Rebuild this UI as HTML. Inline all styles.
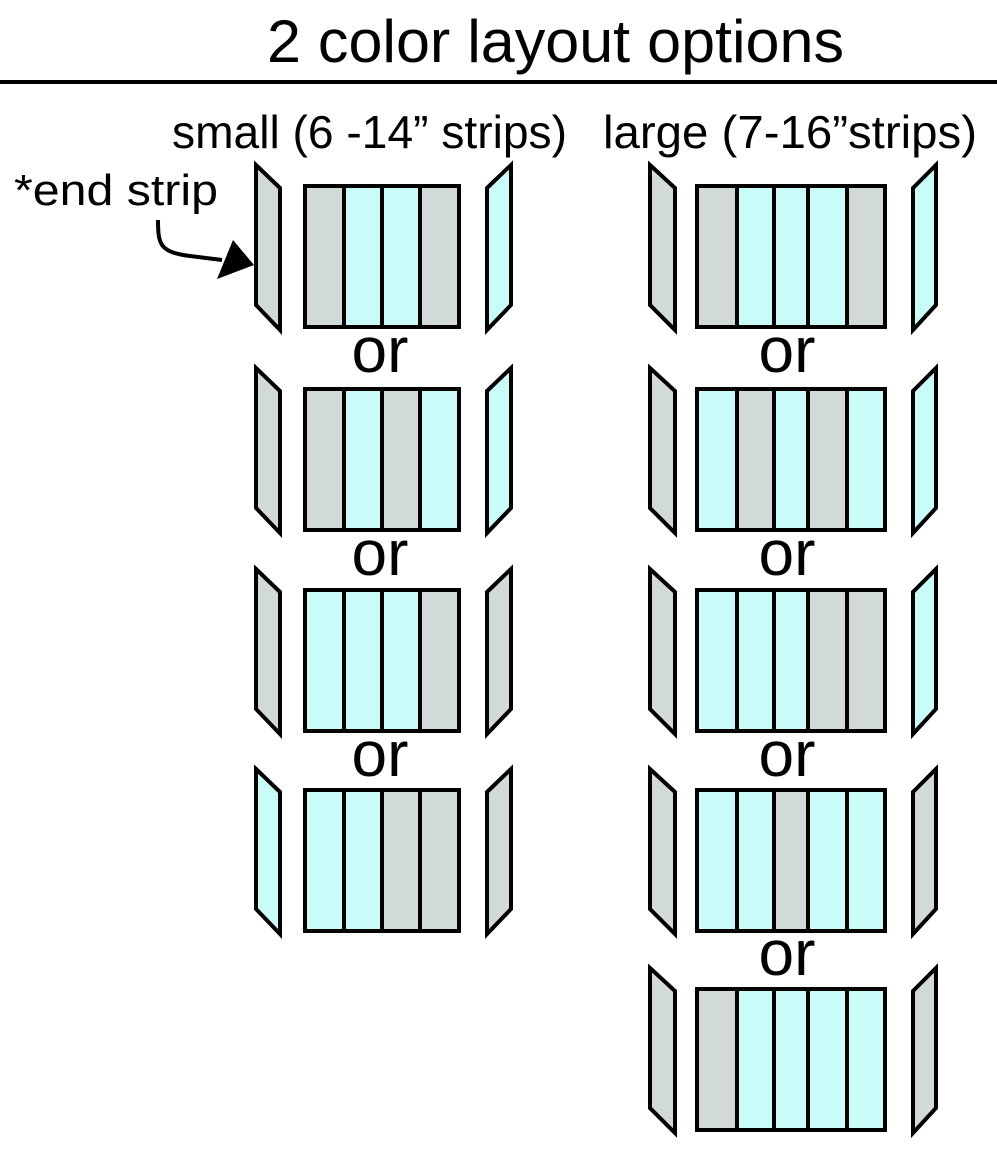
<!DOCTYPE html>
<html><head><meta charset="utf-8"><style>
html,body{margin:0;padding:0;background:#fff;}
svg{display:block;}
text{font-family:"Liberation Sans",sans-serif;fill:#000;}
</style></head><body>
<svg width="997" height="1154" viewBox="0 0 997 1154" xmlns="http://www.w3.org/2000/svg">
<defs>
<style>.s{stroke:#000;stroke-width:4;stroke-linejoin:miter}.g{fill:#d1d9d9}.c{fill:#c9fbf8}</style>
</defs>
<g transform="translate(0,62) scale(1,1.2)"><text x="267" y="0" font-size="50" textLength="577" lengthAdjust="spacingAndGlyphs">2 color layout options</text></g>
<rect x="0" y="80" width="997" height="4" fill="#000"/>
<g transform="translate(0,148) scale(1,1.15)">
<text x="172" y="0" font-size="40" textLength="395" lengthAdjust="spacingAndGlyphs">small (6 -14” strips)</text>
<text x="603" y="0" font-size="40" textLength="374" lengthAdjust="spacingAndGlyphs">large (7-16”strips)</text>
</g>
<g transform="translate(0,205) scale(1,1.1)"><text x="14" y="0" font-size="40" textLength="204" lengthAdjust="spacingAndGlyphs">*end strip</text></g>
<path d="M158,220 C158,245 160,252 190,256 L222,260" fill="none" stroke="#000" stroke-width="4"/>
<polygon points="233,240 254,265 217,279" fill="#000"/>

<!-- small rows -->
<g transform="translate(0,186)">
<polygon class="s g" points="256,-21 280,2 280,144 256,119"/>
<rect class="g" x="305" y="0" width="39" height="141"/><rect class="c" x="344" y="0" width="38" height="141"/><rect class="c" x="382" y="0" width="38" height="141"/><rect class="g" x="420" y="0" width="39" height="141"/>
<rect class="s" x="305" y="0" width="154" height="141" fill="none"/><path class="s" d="M344,0V141M382,0V141M420,0V141"/>
<polygon class="s c" points="487,2 511,-21 511,119 487,144"/>
</g>
<text x="380" y="372" font-size="64" text-anchor="middle">or</text>
<g transform="translate(0,389)">
<polygon class="s g" points="256,-21 280,2 280,144 256,119"/>
<rect class="g" x="305" y="0" width="39" height="141"/><rect class="c" x="344" y="0" width="38" height="141"/><rect class="g" x="382" y="0" width="38" height="141"/><rect class="c" x="420" y="0" width="39" height="141"/>
<rect class="s" x="305" y="0" width="154" height="141" fill="none"/><path class="s" d="M344,0V141M382,0V141M420,0V141"/>
<polygon class="s c" points="487,2 511,-21 511,119 487,144"/>
</g>
<text x="380" y="575" font-size="64" text-anchor="middle">or</text>
<g transform="translate(0,590)">
<polygon class="s g" points="256,-21 280,2 280,144 256,119"/>
<rect class="c" x="305" y="0" width="39" height="141"/><rect class="c" x="344" y="0" width="38" height="141"/><rect class="c" x="382" y="0" width="38" height="141"/><rect class="g" x="420" y="0" width="39" height="141"/>
<rect class="s" x="305" y="0" width="154" height="141" fill="none"/><path class="s" d="M344,0V141M382,0V141M420,0V141"/>
<polygon class="s g" points="487,2 511,-21 511,119 487,144"/>
</g>
<text x="380" y="776" font-size="64" text-anchor="middle">or</text>
<g transform="translate(0,790)">
<polygon class="s c" points="256,-21 280,2 280,144 256,119"/>
<rect class="c" x="305" y="0" width="39" height="141"/><rect class="c" x="344" y="0" width="38" height="141"/><rect class="g" x="382" y="0" width="38" height="141"/><rect class="g" x="420" y="0" width="39" height="141"/>
<rect class="s" x="305" y="0" width="154" height="141" fill="none"/><path class="s" d="M344,0V141M382,0V141M420,0V141"/>
<polygon class="s g" points="487,2 511,-21 511,119 487,144"/>
</g>

<!-- large rows -->
<g transform="translate(0,186)">
<polygon class="s g" points="650,-21 675,2 675,144 650,119"/>
<rect class="g" x="697" y="0" width="40" height="141"/><rect class="c" x="737" y="0" width="37" height="141"/><rect class="c" x="774" y="0" width="34" height="141"/><rect class="c" x="808" y="0" width="39" height="141"/><rect class="g" x="847" y="0" width="38" height="141"/>
<rect class="s" x="697" y="0" width="188" height="141" fill="none"/><path class="s" d="M737,0V141M774,0V141M808,0V141M847,0V141"/>
<polygon class="s c" points="913,2 936,-21 936,119 913,144"/>
</g>
<text x="787" y="372" font-size="64" text-anchor="middle">or</text>
<g transform="translate(0,389)">
<polygon class="s g" points="650,-21 675,2 675,144 650,119"/>
<rect class="c" x="697" y="0" width="40" height="141"/><rect class="g" x="737" y="0" width="37" height="141"/><rect class="c" x="774" y="0" width="34" height="141"/><rect class="g" x="808" y="0" width="39" height="141"/><rect class="c" x="847" y="0" width="38" height="141"/>
<rect class="s" x="697" y="0" width="188" height="141" fill="none"/><path class="s" d="M737,0V141M774,0V141M808,0V141M847,0V141"/>
<polygon class="s c" points="913,2 936,-21 936,119 913,144"/>
</g>
<text x="787" y="575" font-size="64" text-anchor="middle">or</text>
<g transform="translate(0,590)">
<polygon class="s g" points="650,-21 675,2 675,144 650,119"/>
<rect class="c" x="697" y="0" width="40" height="141"/><rect class="c" x="737" y="0" width="37" height="141"/><rect class="c" x="774" y="0" width="34" height="141"/><rect class="g" x="808" y="0" width="39" height="141"/><rect class="g" x="847" y="0" width="38" height="141"/>
<rect class="s" x="697" y="0" width="188" height="141" fill="none"/><path class="s" d="M737,0V141M774,0V141M808,0V141M847,0V141"/>
<polygon class="s c" points="913,2 936,-21 936,119 913,144"/>
</g>
<text x="787" y="776" font-size="64" text-anchor="middle">or</text>
<g transform="translate(0,790)">
<polygon class="s g" points="650,-21 675,2 675,144 650,119"/>
<rect class="c" x="697" y="0" width="40" height="141"/><rect class="c" x="737" y="0" width="37" height="141"/><rect class="g" x="774" y="0" width="34" height="141"/><rect class="c" x="808" y="0" width="39" height="141"/><rect class="c" x="847" y="0" width="38" height="141"/>
<rect class="s" x="697" y="0" width="188" height="141" fill="none"/><path class="s" d="M737,0V141M774,0V141M808,0V141M847,0V141"/>
<polygon class="s g" points="913,2 936,-21 936,119 913,144"/>
</g>
<text x="787" y="975" font-size="64" text-anchor="middle">or</text>
<g transform="translate(0,989)">
<polygon class="s g" points="650,-21 675,2 675,144 650,119"/>
<rect class="g" x="697" y="0" width="40" height="141"/><rect class="c" x="737" y="0" width="37" height="141"/><rect class="c" x="774" y="0" width="34" height="141"/><rect class="c" x="808" y="0" width="39" height="141"/><rect class="c" x="847" y="0" width="38" height="141"/>
<rect class="s" x="697" y="0" width="188" height="141" fill="none"/><path class="s" d="M737,0V141M774,0V141M808,0V141M847,0V141"/>
<polygon class="s g" points="913,2 936,-21 936,119 913,144"/>
</g>
</svg>
</body></html>
